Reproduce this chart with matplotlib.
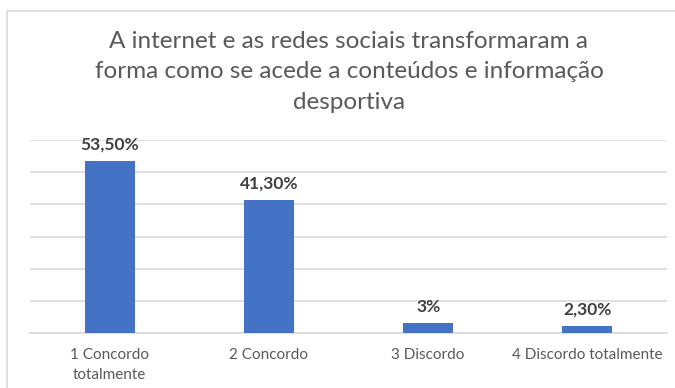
import matplotlib.pyplot as plt
from matplotlib.patches import Rectangle

categories = ['1 Concordo\ntotalmente', '2 Concordo', '3 Discordo', '4 Discordo totalmente']
values = [53.5, 41.3, 3.0, 2.3]
value_labels = ['53,50%', '41,30%', '3%', '2,30%']
title = ('A internet e as redes sociais transformaram a\n'
         'forma como se acede a conteúdos e informação\n'
         'desportiva')

plt.rcParams['font.family'] = ['Lato', 'DejaVu Sans']

fig = plt.figure(figsize=(6.75, 3.88), dpi=100)
fig.patches.append(Rectangle((7 / 675, -0.1), 1.0, 1.0 - 11 / 388 + 0.1,
                             transform=fig.transFigure, fill=False,
                             edgecolor='#d9d9d9', linewidth=1.2))

ax = fig.add_axes([30 / 675, 55 / 388, 637 / 675, 193 / 388])
x = range(len(categories))
ax.bar(x, values, width=0.315, color='#4472c4', zorder=3)
ax.set_xlim(-0.5, len(categories) - 0.5)
ax.set_ylim(0, 60)
ax.set_yticks(range(0, 61, 10))
ax.yaxis.grid(True, color='#d9d9d9', linewidth=1.2, zorder=0)
ax.tick_params(axis='y', left=False, labelleft=False)
ax.tick_params(axis='x', length=0, pad=11, labelsize=11, labelcolor='#595959')
ax.set_xticks(list(x))
ax.set_xticklabels(categories, linespacing=1.55)
for s in ['top', 'right', 'left']:
    ax.spines[s].set_visible(False)
ax.spines['bottom'].set_color('#d9d9d9')
ax.spines['bottom'].set_linewidth(1.2)

for i, (v, lab) in enumerate(zip(values, value_labels)):
    ax.annotate(lab, (i, v), xytext=(0, 6), textcoords='offset points',
                ha='center', va='bottom', fontsize=12.5, fontweight='bold',
                color='#404040')

fig.text(0.517, 0.92, title, ha='center', va='top', fontsize=17.5,
         color='#595959', linespacing=1.55)

fig.savefig('out.png', dpi=100)
